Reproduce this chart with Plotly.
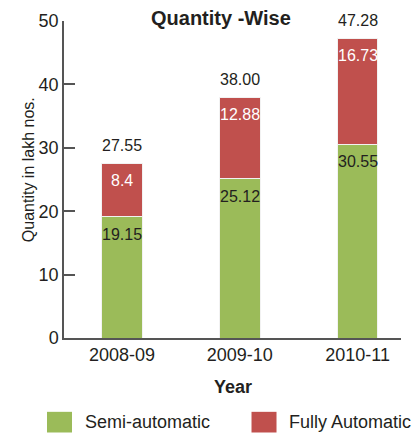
import plotly.graph_objects as go

# Data (quantity in lakh nos.)
years = ["2008-09", "2009-10", "2010-11"]
semi_automatic = [19.15, 25.12, 30.55]
fully_automatic = [8.4, 12.88, 16.73]
semi_labels = ["19.15", "25.12", "30.55"]
fully_labels = ["8.4", "12.88", "16.73"]
y_ticks = [0, 10, 20, 30, 40, 50]

GREEN = "#9BBB59"
RED = "#C0504D"
FONT = "Liberation Sans, Arial, sans-serif"
INK = "#231F20"

positions = list(range(len(years)))
totals = [s + f for s, f in zip(semi_automatic, fully_automatic)]

fig = go.Figure()
fig.add_trace(go.Bar(
    x=positions, y=semi_automatic, name="Semi-automatic",
    marker=dict(color=GREEN, line=dict(color="#F2F2F2", width=1)),
    width=0.345, showlegend=False, hoverinfo="skip",
))
fig.add_trace(go.Bar(
    x=positions, y=fully_automatic, name="Fully Automatic",
    marker=dict(color=RED, line=dict(color="#F2F2F2", width=1)),
    width=0.345, showlegend=False, hoverinfo="skip",
))

# Segment values, set just inside the top of each segment
for p, s, t, sl, fl in zip(positions, semi_automatic, totals,
                           semi_labels, fully_labels):
    fig.add_annotation(
        x=p, y=s, text=sl, showarrow=False, yanchor="top", yshift=-7,
        font=dict(family=FONT, size=16, color=INK),
    )
    fig.add_annotation(
        x=p, y=t, text=fl, showarrow=False, yanchor="top", yshift=-7,
        font=dict(family=FONT, size=16, color="white"),
    )
    # Stack total above the bar
    fig.add_annotation(
        x=p, y=t, text=f"{t:.2f}", showarrow=False,
        yanchor="bottom", yshift=7,
        font=dict(family=FONT, size=16, color=INK),
    )

x_range = [-0.4926, 2.369]
divider_ticks = [0.459, 1.418, 2.369]

fig.update_layout(
    width=412, height=437,
    margin=dict(l=64, r=11, t=16, b=99),
    paper_bgcolor="white", plot_bgcolor="white",
    barmode="stack",
    font=dict(family=FONT, color=INK),
    xaxis=dict(
        range=x_range, tickvals=positions, ticktext=years,
        ticks="", showgrid=False, zeroline=False,
        showline=True, linecolor="#555555", linewidth=1.5,
        tickfont=dict(family=FONT, size=18, color=INK),
        fixedrange=True,
    ),
    xaxis2=dict(
        range=x_range, overlaying="x", anchor="y", side="bottom",
        tickvals=divider_ticks, showticklabels=False,
        ticks="inside", ticklen=8, tickwidth=1.5, tickcolor="#555555",
        showgrid=False, zeroline=False, showline=False,
    ),
    yaxis=dict(
        range=[0, 50], tickvals=y_ticks,
        ticks="inside", ticklen=11, tickwidth=1.5, tickcolor="#555555",
        showgrid=False, zeroline=False,
        showline=True, linecolor="#555555", linewidth=1.5,
        tickfont=dict(family=FONT, size=18, color=INK),
        fixedrange=True,
    ),
    showlegend=False,
)

# Titles
fig.add_annotation(
    xref="paper", yref="paper", x=0.466, y=1, yanchor="top", yshift=16,
    text="<b>Quantity -Wise</b>", showarrow=False,
    font=dict(family=FONT, size=20, color=INK),
)
fig.add_annotation(
    xref="paper", yref="paper", x=0.5, y=-0.155, yanchor="middle",
    text="<b>Year</b>", showarrow=False,
    font=dict(family=FONT, size=18, color=INK),
)
fig.add_annotation(
    xref="paper", yref="paper", x=-0.1365, y=0.531, textangle=-90,
    text="Quantity in lakh nos.", showarrow=False,
    font=dict(family=FONT, size=16, color=INK),
)

# Legend swatches and labels
legend_items = [("Semi-automatic", GREEN, -0.0504, 0.0563),
                ("Fully Automatic", RED, 0.5564, 0.6632)]
for label, color, x0, tx in legend_items:
    fig.add_shape(
        type="rect", xref="paper", yref="paper",
        x0=x0, x1=x0 + 0.0742, y0=-0.2981, y1=-0.2329,
        fillcolor=color, line=dict(width=0),
    )
    fig.add_annotation(
        xref="paper", yref="paper", x=tx, y=-0.2655,
        xanchor="left", yanchor="middle", text=label, showarrow=False,
        font=dict(family=FONT, size=18, color=INK),
    )

fig.write_html("out.html")
